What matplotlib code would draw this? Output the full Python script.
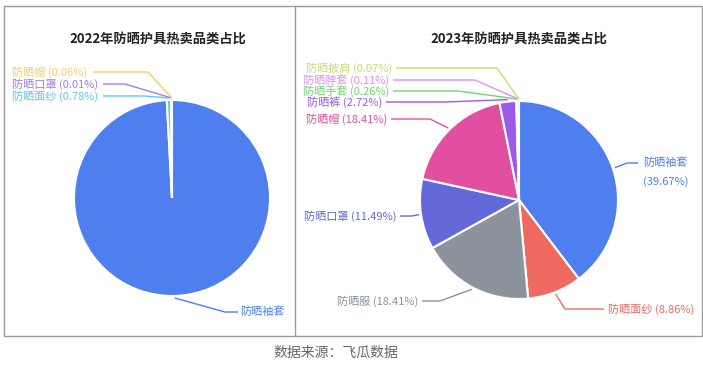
import numpy as np
import matplotlib
matplotlib.use("Agg")
import matplotlib.pyplot as plt
from matplotlib.patches import Rectangle

plt.rcParams['font.family'] = ['Noto Sans CJK SC', 'DejaVu Sans']

# data
labels_2022 = ['防晒袖套', '防晒面纱', '防晒口罩', '防晒帽']
values_2022 = [99.15, 0.78, 0.01, 0.06]
colors_2022 = ['#4F7FEF', '#5BC9F0', '#A47CF2', '#F6CD6B']
show_pct_2022 = [False, True, True, True]

labels_2023 = ['防晒袖套', '防晒面纱', '防晒服', '防晒口罩', '防晒帽',
               '防晒裤', '防晒手套', '防晒脖套', '防晒披肩']
values_2023 = [39.67, 8.86, 18.41, 11.49, 18.41, 2.72, 0.26, 0.11, 0.07]
colors_2023 = ['#4F7FEF', '#EE6A61', '#8C939D', '#6369D9', '#E24FA0',
               '#9B5BE8', '#72D472', '#E190EB', '#C9DC6B']

W, H = 703, 370
fig = plt.figure(figsize=(W / 100, H / 100), dpi=100)
ax = fig.add_axes([0, 0, 1, 1])
ax.axis('off')

def Y(y):
    # image y (top-down) -> data y
    return H - y

# frame + divider
ax.add_patch(Rectangle((3.5, Y(335.5)), 698, 330, fill=False, ec='#9a9a9a', lw=1))
ax.plot([294.5, 294.5], [Y(5.5), Y(335.5)], color='#9a9a9a', lw=1)

ax.text(158, Y(40), '2022年防晒护具热卖品类占比', ha='center', va='center',
        fontsize=9.5, fontweight='bold', color='#222222')
ax.text(519, Y(40), '2023年防晒护具热卖品类占比', ha='center', va='center',
        fontsize=9.5, fontweight='bold', color='#222222')
ax.text(336, Y(353), '数据来源：飞瓜数据', ha='center', va='center',
        fontsize=10, color='#666666')


def draw_pie(values, colors, cx, cy, r):
    wedges, _ = ax.pie(values, colors=colors, center=(cx, Y(cy)), radius=r,
                       startangle=90, counterclock=False,
                       wedgeprops=dict(edgecolor='white', linewidth=1.5))
    return wedges


def leader(wedge, cx, cy, r, knee, end, color):
    ang = np.radians((wedge.theta1 + wedge.theta2) / 2)
    sx = cx + (r + 2) * np.cos(ang)
    sy = Y(cy) + (r + 2) * np.sin(ang)
    ax.plot([sx, knee[0], end[0]], [sy, Y(knee[1]), Y(end[1])],
            color=color, lw=1, solid_capstyle='butt')


# 2022 pie
c1 = (172, 198, 98)
w1 = draw_pie(values_2022, colors_2022, *c1)
# label layout: (knee, line end, text x, text y, ha)
lay_2022 = [
    ((225, 312), (238, 312), 240, 312, 'left'),
    ((145, 96), (103, 96), 12, 96, 'left'),
    ((125, 84), (103, 84), 12, 84, 'left'),
    ((148, 72), (93, 72), 12, 72, 'left'),
]
for w, lab, val, col, sp, (knee, end, tx, ty, ha) in zip(
        w1, labels_2022, values_2022, colors_2022, show_pct_2022, lay_2022):
    leader(w, *c1, knee, end, col)
    txt = f'{lab} ({val:.2f}%)' if sp else lab
    ax.text(tx, Y(ty), txt, ha=ha, va='center', fontsize=8, color=col)

# 2023 pie
c2 = (519, 200, 99)
w2 = draw_pie(values_2023, colors_2023, *c2)
lay_2023 = [
    ((627, 163), (638, 163), 643, 163, 'left'),
    ((565, 309), (604, 309), 608, 309, 'left'),
    ((440, 301), (422, 301), 418, 301, 'right'),
    ((412, 216), (400, 216), 396, 216, 'right'),
    ((430, 119), (391, 119), 387, 119, 'right'),
    ((445, 102), (386, 102), 382, 102, 'right'),
    ((458, 91), (393, 91), 389, 91, 'right'),
    ((475, 80), (393, 80), 389, 80, 'right'),
    ((497, 68), (396, 68), 392, 68, 'right'),
]
for i, (w, lab, val, col, (knee, end, tx, ty, ha)) in enumerate(zip(
        w2, labels_2023, values_2023, colors_2023, lay_2023)):
    leader(w, *c2, knee, end, col)
    if i == 0:
        ax.text(tx, Y(ty), lab, ha='left', va='center', fontsize=8, color=col)
        ax.text(tx, Y(ty + 19), f'({val:.2f}%)', ha='left', va='center',
                fontsize=8, color=col)
    else:
        ax.text(tx, Y(ty), f'{lab} ({val:.2f}%)', ha=ha, va='center',
                fontsize=8, color=col)

ax.set_aspect('equal')
ax.set_xlim(0, W)
ax.set_ylim(0, H)
fig.savefig('out.png', dpi=100)
